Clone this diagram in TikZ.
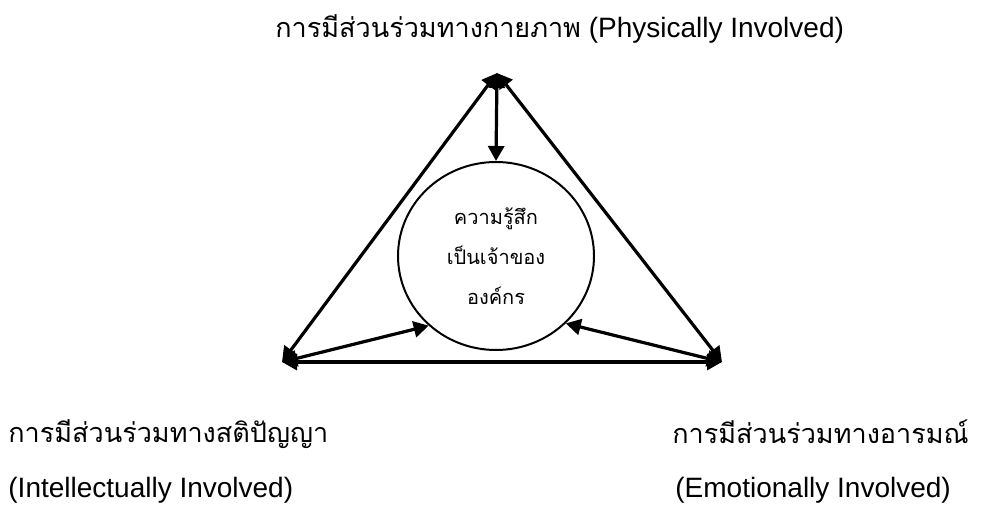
\documentclass[tikz,border=0pt]{standalone}
\usepackage{fontspec}
\setmainfont{Liberation Sans}
\newfontfamily\thaifont[Script=Thai]{Loma}
\usetikzlibrary{arrows.meta,shapes.geometric}

\newcommand\thaitext{\thaifont\fontsize{13.5}{16}\selectfont}

\tikzset{
  link/.style={line width=1.6pt, {Triangle[length=7.5pt,width=8pt]}-{Triangle[length=7.5pt,width=8pt]}},
  hub/.style={draw, line width=1pt, ellipse, minimum width=98pt, minimum height=94pt, inner sep=0pt,
    align=center, font=\thaifont\fontsize{10}{20}\selectfont},
  lbl/.style={anchor=base west, inner sep=0pt, font=\fontsize{14}{16}\selectfont}
}

\begin{document}
\begin{tikzpicture}[x=0.5pt, y=-0.5pt]
\useasboundingbox (0,0) rectangle (984,508);

% corners of the triangle
\coordinate (top) at (497,73);
\coordinate (left) at (282,362);
\coordinate (right) at (722,362);

% centre circle
\node[hub] (core) at (496,256) {ความรู้สึก\\เป็นเจ้าของ\\องค์กร};

% triangle edges
\draw[link] (left) -- (top);
\draw[link] (top) -- (right);
\draw[link] (left) -- (right);

% spokes into the circle
\draw[link] (top) -- (core.north);
\draw[link] (left) -- (core.226);
\draw[link] (right) -- (core.316);

% labels
\node[lbl] (phys) at (275,38) {{\thaitext การมีส่วนร่วมทางกายภาพ} (Physically Involved)};
\node[lbl] (intel) at (8,442) {\thaitext การมีส่วนร่วมทางสติปัญญา};
\node[lbl] (intelEn) at (8,497) {(Intellectually Involved)};
\node[lbl] (emo) at (672,443) {\thaitext การมีส่วนร่วมทางอารมณ์};
\node[lbl] (emoEn) at (675,497) {(Emotionally Involved)};
\end{tikzpicture}
\end{document}
